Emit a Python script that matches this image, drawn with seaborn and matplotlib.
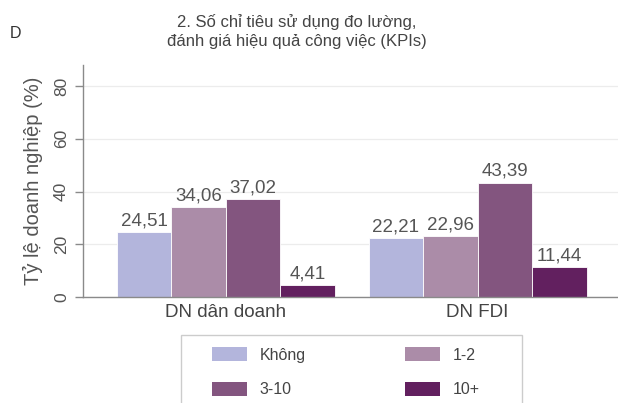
import matplotlib
matplotlib.use("Agg")
import matplotlib.pyplot as plt
import matplotlib.patches as mpatches
import seaborn as sns
import pandas as pd

groups = ["DN dân doanh", "DN FDI"]
series = ["Không", "1-2", "3-10", "10+"]
values_dan_doanh = [24.51, 34.06, 37.02, 4.41]
values_fdi = [22.21, 22.96, 43.39, 11.44]
colors = ["#b3b5dc", "#ab8ca8", "#83557f", "#62205f"]
yticks = [0, 20, 40, 60, 80]
title = "2. Số chỉ tiêu sử dụng đo lường,\nđánh giá hiệu quả công việc (KPIs)"
ylabel = "Tỷ lệ doanh nghiệp (%)"

rows = []
for g, vals in zip(groups, [values_dan_doanh, values_fdi]):
    for s, v in zip(series, vals):
        rows.append({"group": g, "series": s, "value": v})
df = pd.DataFrame(rows)

sns.set_theme(style="white")
plt.rcParams["font.family"] = ["Liberation Sans", "DejaVu Sans"]

W, H = 618, 403
fig = plt.figure(figsize=(W / 100, H / 100), dpi=100)
ax = fig.add_axes([83 / W, 1 - 297 / H, (625 - 83) / W, (297 - 65) / H])

sns.barplot(data=df, x="group", y="value", hue="series", order=groups,
            hue_order=series, palette=colors, saturation=1, width=0.865, gap=0,
            edgecolor="white", linewidth=0.6, ax=ax, legend=False)

ax.set_xlim(-0.567, 1.585)
ax.set_ylim(0, 88)
ax.set_yticks(yticks)
ax.set_yticklabels([str(t) for t in yticks])
ax.yaxis.grid(True, color="#ececec", linewidth=0.9)
ax.set_axisbelow(True)
ax.tick_params(axis="y", which="both", left=True, length=6, width=1,
               color="#8a8a8a", labelsize=12.5, labelcolor="#555555",
               labelrotation=90, pad=4)
for lab in ax.get_yticklabels():
    lab.set_va("center")
ax.tick_params(axis="x", length=0, labelsize=13.5, labelcolor="#444444", pad=5)
ax.set_xlabel("")
ax.set_ylabel(ylabel, fontsize=14.5, color="#555555", labelpad=8)
for side in ["top", "right"]:
    ax.spines[side].set_visible(False)
for side in ["left", "bottom"]:
    ax.spines[side].set_color("#8a8a8a")
    ax.spines[side].set_linewidth(1)

for cont in ax.containers:
    labels = [f"{b.get_height():.2f}".replace(".", ",") for b in cont]
    ax.bar_label(cont, labels=labels, padding=2, fontsize=13.5, color="#555555")

fig.text(297 / W, 1 - 14 / H, title, ha="center", va="top", fontsize=12,
         color="#444444", multialignment="center", linespacing=1.3)
fig.text(10 / W, 1 - 33 / H, "D", ha="left", va="center", fontsize=11.5,
         color="#333333")

# legend frame
frame = mpatches.Rectangle((181 / W, -0.05), (522 - 181) / W, (1 - 335 / H) + 0.05,
                           transform=fig.transFigure, facecolor="white",
                           edgecolor="#cccccc", linewidth=1, zorder=0)
fig.patches.append(frame)

patch_map = {s: mpatches.Patch(facecolor=c, edgecolor="none", label=s)
             for s, c in zip(series, colors)}
# matplotlib fills legend columns first; order so rows read Không,1-2 / 3-10,10+
handles = [patch_map[s] for s in [series[0], series[2], series[1], series[3]]]
leg = fig.legend(handles=handles, loc="upper left",
                 bbox_to_anchor=(212 / W, 1 - 347 / H), ncol=2, frameon=False,
                 fontsize=11.5, handlelength=2.2, handleheight=1.0,
                 handletextpad=0.8, columnspacing=6.2, labelspacing=1.2,
                 borderpad=0, borderaxespad=0)
for t in leg.get_texts():
    t.set_color("#444444")

fig.savefig("out.png", dpi=100)
